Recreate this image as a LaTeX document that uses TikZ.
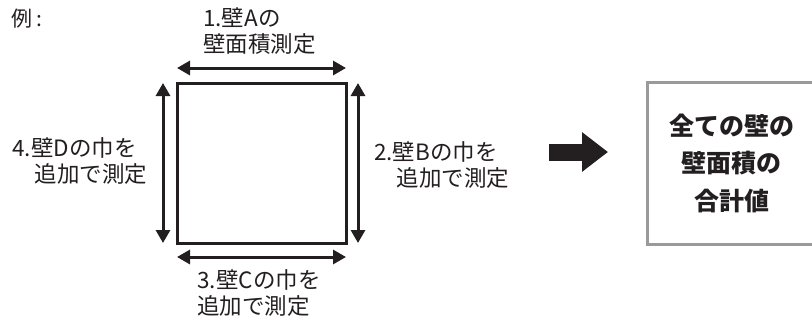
\documentclass[tikz,border=0pt]{standalone}
\usepackage{fontspec}
\setmainfont{Noto Sans CJK JP}
\usetikzlibrary{arrows.meta,calc}
\definecolor{ink}{HTML}{231F20}
\definecolor{boxgray}{HTML}{9A9A9A}
\begin{document}
\begin{tikzpicture}[x=1pt,y=-1pt,
  lbl/.style={font=\fontsize{22.5}{26}\selectfont, text=ink, inner sep=0pt, align=left},
  dimarrow/.style={{Triangle[length=13pt,width=14pt]}-{Triangle[length=13pt,width=14pt]}, line width=3pt, draw=ink},
  bigarrow/.style={-{Triangle[length=26pt,width=38pt]}, line width=17pt, draw=ink},
  wallbox/.style={draw=ink, line width=3pt, minimum width=169pt, minimum height=160pt, inner sep=0pt, outer sep=0pt},
  totalbox/.style={draw=boxgray, line width=3pt, minimum width=169pt, minimum height=162pt, outer sep=0pt, inner sep=0pt, font=\bfseries\fontsize{25}{37.5}\selectfont, align=center, text=ink}]
\useasboundingbox (0,0) rectangle (812,322);
% example label
\node[lbl, font=\fontsize{21}{24}\selectfont, anchor=west] (ex) at (11,19) {例\hspace{4pt}:};
% wall square
\node[wallbox] (wall) at (261.5,163) {};
% dimension arrows
\draw[dimarrow] ($(wall.north west)+(0,-15)$) -- ($(wall.north east)+(0,-15)$);
\draw[dimarrow] ($(wall.south west)+(0,14)$) -- ($(wall.south east)+(0,14)$);
\draw[dimarrow] ($(wall.north west)+(-14,0)$) -- ($(wall.south west)+(-14,0)$);
\draw[dimarrow] ($(wall.north east)+(12,0)$) -- ($(wall.south east)+(12,0)$);
% labels
\node[lbl] (la) at (259.5,31.5) {1.壁Aの\\壁面積測定};
\node[lbl] (lc) at (259,293.5) {3.壁Cの巾を\\追加で測定};
\node[lbl] (ld) at (80,161.5) {4.壁Dの巾を\\　追加で測定};
\node[lbl] (lb) at (441.5,165.5) {2.壁Bの巾を\\　追加で測定};
% big arrow
\coordinate (bs) at (549,152);
\coordinate (be) at (608,152);
\draw[bigarrow] (bs) -- (be);
% total box
\node[totalbox] (total) at (731.5,163) {全ての壁の\\壁面積の\\合計値};
\end{tikzpicture}
\end{document}
